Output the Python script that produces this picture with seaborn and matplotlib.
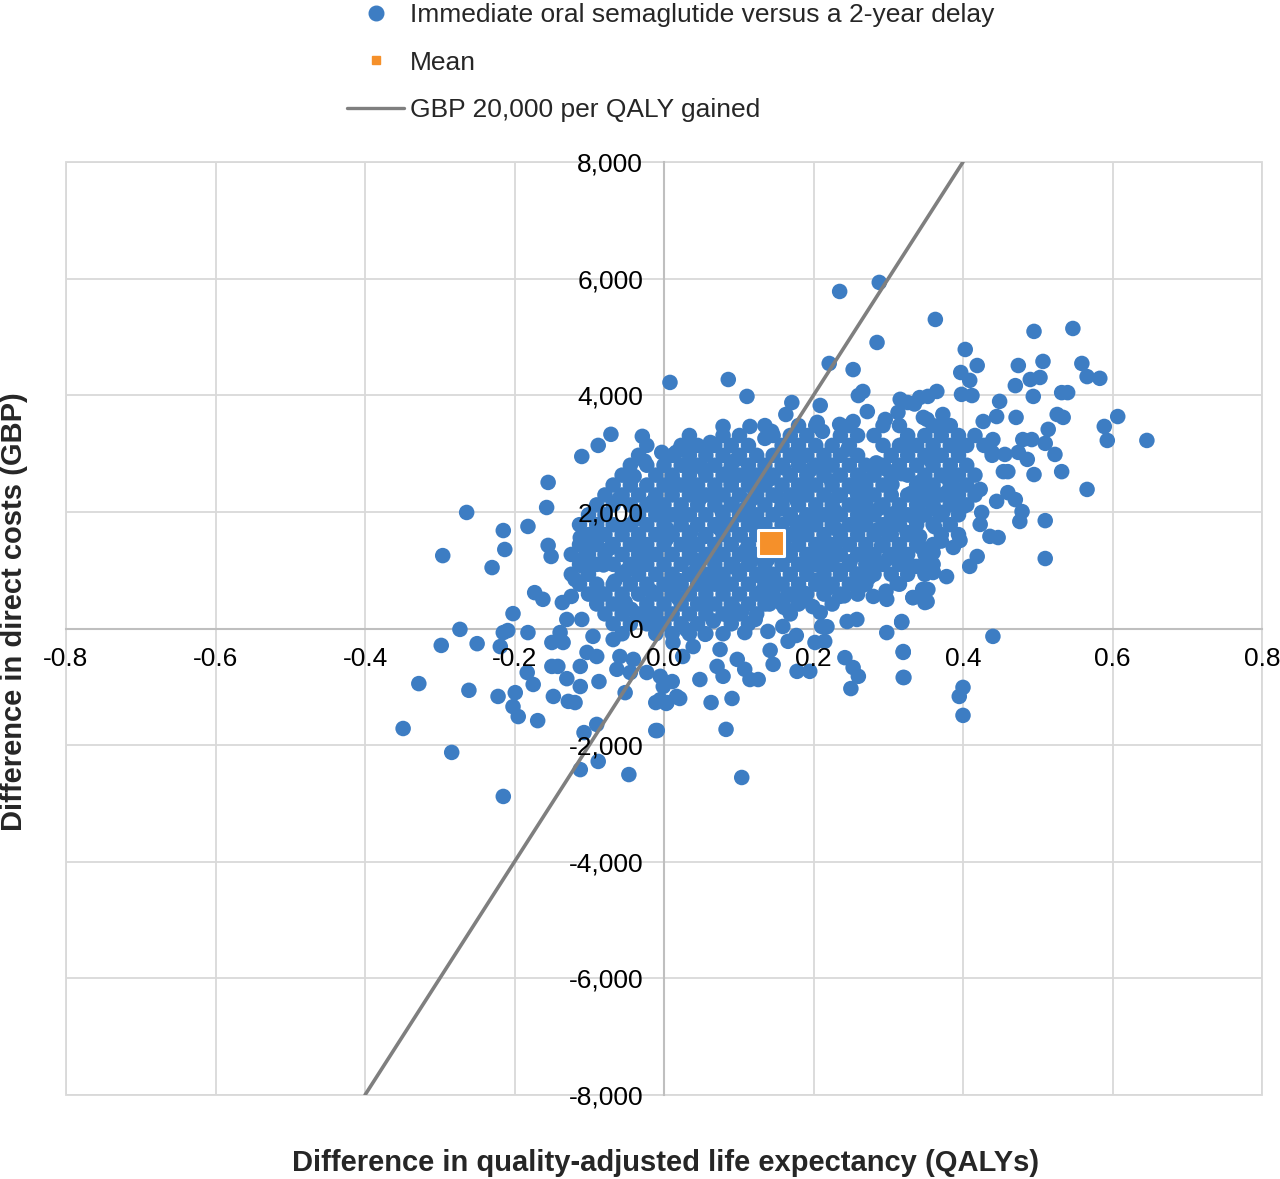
import matplotlib.pyplot as plt
import matplotlib.ticker as mticker
from matplotlib.lines import Line2D
from matplotlib.patches import Rectangle
import numpy as np
import pandas as pd
import seaborn as sns

# ---- data (QALYs gained, incremental cost in GBP) ----
# dense core of the cloud: one cost band per row
core_row_cost = [3480, 3310, 3140, 2970, 2800, 2630, 2460, 2290, 2120, 1950, 1780,
                 1610, 1440, 1270, 1100, 930, 760, 590, 420, 250, 80, -90]
core_row_qaly = [
    [0.135, 0.180, 0.203, 0.248, 0.293, 0.315, 0.360, 0.383],
    [0.034, 0.079, 0.101, 0.146, 0.169, 0.191, 0.236, 0.259, 0.281, 0.326, 0.349, 0.371, 0.394, 0.416],
    [-0.023, 0.023, 0.045, 0.068, 0.090, 0.113, 0.158, 0.180, 0.203, 0.225, 0.248, 0.293, 0.315, 0.338, 0.360, 0.383, 0.405, 0.428],
    [-0.034, 0.011, 0.034, 0.056, 0.079, 0.101, 0.124, 0.146, 0.169, 0.191, 0.214, 0.236, 0.259, 0.304, 0.326, 0.349, 0.371, 0.394, 0.439],
    [-0.045, -0.023, 0.000, 0.023, 0.045, 0.068, 0.090, 0.113, 0.135, 0.158, 0.180, 0.203, 0.225, 0.248, 0.270, 0.293, 0.315, 0.338, 0.360, 0.383, 0.405],
    [-0.056, -0.011, 0.011, 0.034, 0.056, 0.079, 0.101, 0.124, 0.146, 0.169, 0.191, 0.214, 0.236, 0.259, 0.281, 0.304, 0.326, 0.349, 0.371, 0.394, 0.416],
    [-0.068, -0.045, -0.023, 0.000, 0.023, 0.045, 0.068, 0.090, 0.113, 0.135, 0.158, 0.180, 0.203, 0.225, 0.248, 0.270, 0.293, 0.338, 0.360, 0.383, 0.405],
    [-0.079, -0.056, -0.034, -0.011, 0.011, 0.034, 0.056, 0.079, 0.101, 0.124, 0.146, 0.169, 0.191, 0.214, 0.236, 0.259, 0.281, 0.304, 0.326, 0.349, 0.371, 0.394, 0.416],
    [-0.090, -0.068, -0.045, -0.023, 0.000, 0.023, 0.045, 0.068, 0.090, 0.113, 0.135, 0.158, 0.180, 0.203, 0.225, 0.248, 0.270, 0.293, 0.315, 0.338, 0.360, 0.383, 0.405],
    [-0.101, -0.079, -0.034, -0.011, 0.011, 0.034, 0.056, 0.079, 0.101, 0.124, 0.146, 0.169, 0.191, 0.214, 0.236, 0.259, 0.281, 0.304, 0.326, 0.349, 0.371, 0.394],
    [-0.113, -0.090, -0.068, -0.045, -0.023, 0.000, 0.023, 0.045, 0.068, 0.090, 0.113, 0.135, 0.158, 0.180, 0.203, 0.225, 0.248, 0.270, 0.293, 0.315, 0.338, 0.360, 0.383],
    [-0.101, -0.079, -0.056, -0.034, -0.011, 0.011, 0.034, 0.056, 0.079, 0.101, 0.124, 0.146, 0.169, 0.191, 0.214, 0.236, 0.259, 0.281, 0.304, 0.326, 0.371, 0.394],
    [-0.113, -0.090, -0.068, -0.045, -0.023, 0.000, 0.023, 0.045, 0.068, 0.090, 0.113, 0.135, 0.158, 0.180, 0.203, 0.225, 0.248, 0.270, 0.293, 0.315, 0.338, 0.360],
    [-0.124, -0.101, -0.079, -0.056, -0.034, -0.011, 0.011, 0.034, 0.056, 0.079, 0.101, 0.124, 0.146, 0.169, 0.191, 0.214, 0.236, 0.259, 0.281, 0.304, 0.326, 0.349],
    [-0.113, -0.090, -0.068, -0.045, -0.023, 0.000, 0.023, 0.045, 0.068, 0.090, 0.113, 0.135, 0.158, 0.180, 0.203, 0.225, 0.248, 0.270, 0.293, 0.315, 0.360],
    [-0.124, -0.101, -0.056, -0.034, -0.011, 0.011, 0.034, 0.056, 0.079, 0.101, 0.124, 0.146, 0.169, 0.191, 0.214, 0.236, 0.259, 0.281, 0.304, 0.326, 0.349],
    [-0.113, -0.090, -0.068, -0.045, -0.023, 0.000, 0.023, 0.045, 0.068, 0.090, 0.113, 0.135, 0.158, 0.180, 0.203, 0.225, 0.248, 0.270, 0.315],
    [-0.101, -0.079, -0.056, -0.034, -0.011, 0.011, 0.034, 0.056, 0.079, 0.101, 0.124, 0.146, 0.169, 0.191, 0.214, 0.236, 0.259],
    [-0.090, -0.068, -0.023, 0.000, 0.023, 0.045, 0.068, 0.090, 0.113, 0.135, 0.158, 0.180, 0.225],
    [-0.079, -0.056, -0.034, -0.011, 0.011, 0.034, 0.056, 0.079, 0.101, 0.124, 0.169],
    [-0.068, -0.045, -0.023, 0.000, 0.023, 0.045, 0.090, 0.113],
    [-0.056, -0.011, 0.011, 0.034, 0.056, 0.079],
]
# extra points sitting inside the core
core_fill = [
    (0.012, 2540), (0.047, 2210), (0.083, 2655), (0.121, 2380), (0.157, 2050), (0.196, 2720),
    (0.233, 2275), (0.268, 1985), (0.305, 2470), (0.341, 2130), (0.377, 2600), (-0.038, 1870),
    (0.003, 1530), (0.039, 1195), (0.074, 1720), (0.109, 1340), (0.146, 905), (0.183, 1605),
    (0.219, 1160), (0.254, 1790), (0.291, 1420), (0.327, 1015), (0.362, 1745), (-0.072, 1380),
    (-0.051, 985), (-0.017, 640), (0.021, 820), (0.058, 455), (0.094, 1050), (0.131, 640),
    (0.167, 1255), (0.204, 830), (0.241, 560), (0.277, 1110), (0.312, 770), (-0.088, 640),
    (-0.060, 2230), (-0.026, 2870), (0.016, 3020), (0.062, 3190), (0.097, 2900), (0.135, 3260),
    (0.173, 2985), (0.212, 3380), (0.246, 3075), (0.284, 2840), (0.322, 3175), (0.356, 2895),
    (0.393, 3060), (-0.094, 1630), (-0.081, 1090), (-0.107, 1210), (0.030, -20), (0.066, 130),
    (0.104, 285), (0.141, 420), (0.182, 460), (0.219, 690), (0.258, 930), (0.297, 640),
    (-0.044, 330), (-0.008, 95), (0.053, 2730), (0.090, 2470), (0.187, 2345), (0.229, 2015),
    (0.263, 2590), (0.299, 1650), (0.336, 1880), (0.371, 1500), (0.114, 1890), (0.152, 1600),
    (0.004, 1710), (-0.030, 1400),
    (-0.040, 2610), (-0.015, 2180), (0.028, 2795), (0.069, 2345), (0.105, 2025), (0.142, 2565),
    (0.178, 2190), (0.215, 2860), (0.252, 2420), (0.288, 2060), (0.318, 2655), (-0.057, 1720),
    (-0.020, 1285), (0.017, 1960), (0.055, 1580), (0.091, 2130), (0.127, 1715), (0.163, 1385),
    (0.199, 1930), (0.236, 1525), (0.272, 1305), (0.309, 1980), (0.344, 1390), (-0.066, 810),
    (-0.031, 1105), (0.007, 735), (0.043, 1010), (0.080, 820), (0.116, 1145), (0.153, 760),
    (0.190, 1035), (0.226, 1380), (0.263, 720), (0.300, 1200), (-0.052, 450), (-0.018, 270),
    (0.019, 520), (0.056, 770), (0.092, 380), (0.128, 900), (0.165, 560), (0.201, 1200),
    (0.236, 1000), (0.274, 870), (0.041, 2440), (0.078, 1990), (0.113, 2620), (0.150, 2280),
    (0.188, 1795), (0.224, 2530), (0.260, 2160), (0.296, 2740), (0.331, 2320), (0.367, 2000),
    (0.029, 1430), (0.067, 1225), (0.102, 1605), (0.139, 1190), (0.176, 1830), (0.212, 1430),
    (0.249, 1145), (0.286, 1695), (0.320, 1250), (0.355, 1135), (-0.003, 2010), (0.036, 1650),
    (0.070, 950), (0.120, 2240), (0.160, 2755), (0.197, 2460), (0.230, 1710), (0.270, 2320),
    (0.306, 1830), (0.340, 2500),
]

# scattered points around the core
left_spread = [
    (-0.264, 1990), (-0.296, 1250), (-0.215, 1680), (-0.213, 1355), (-0.230, 1045), (-0.182, 1750),
    (-0.155, 2505), (-0.157, 2075), (-0.155, 1425), (-0.151, 1235), (-0.110, 2950), (-0.088, 3140),
    (-0.071, 3330), (-0.029, 3295), (-0.173, 615), (-0.162, 500), (-0.136, 445), (-0.202, 255),
    (-0.273, -15), (-0.298, -290), (-0.250, -260), (-0.215, -70), (-0.209, -35), (-0.219, -310),
    (-0.182, -70), (-0.139, -70), (-0.135, -240), (-0.150, -240), (-0.328, -945), (-0.261, -1060),
    (-0.222, -1165), (-0.199, -1100), (-0.202, -1340), (-0.195, -1510), (-0.169, -1580), (-0.183, -755),
    (-0.175, -960), (-0.150, -650), (-0.142, -650), (-0.148, -1165), (-0.128, -1250), (-0.119, -1270),
    (-0.130, -860), (-0.112, -995), (-0.087, -910), (-0.349, -1715), (-0.284, -2125), (-0.215, -2880),
    (-0.112, -2420), (-0.107, -1785), (-0.090, -1645), (-0.088, -2280), (-0.047, -2505), (-0.011, -1750),
    (-0.112, 1560), (-0.103, 1360), (-0.108, 1065), (-0.119, 840), (-0.124, 550), (-0.130, 155),
    (-0.110, 155), (-0.095, -135), (-0.103, -410), (-0.112, -650), (-0.090, -480), (-0.068, -190),
    (-0.059, -480), (-0.041, -530), (-0.063, -700), (-0.045, -755), (-0.023, -755), (-0.001, -995),
    (-0.005, -1220), (0.004, -1270), (-0.052, -1100), (0.017, -1165),
]
top_spread = [
    (0.235, 5780), (0.288, 5935), (0.363, 5300), (0.285, 4905), (0.221, 4545), (0.253, 4440),
    (0.008, 4220), (0.086, 4270), (0.111, 3980), (0.171, 3875), (0.209, 3825), (0.260, 3995),
    (0.266, 4065), (0.272, 3720), (0.163, 3670), (0.079, 3465), (-0.003, 3020), (0.021, 3070),
    (0.031, 3070), (0.296, 3585), (0.313, 3705), (0.326, 3875), (0.342, 3960), (0.353, 3980),
    (0.365, 4065), (0.115, 3465), (0.144, 3380), (0.205, 3535), (0.235, 3500), (0.253, 3550),
    (0.352, 3585), (0.316, 3930), (0.335, 3850), (0.373, 3670), (0.372, 3500), (0.347, 3620),
]
right_spread = [
    (0.495, 5095), (0.547, 5145), (0.403, 4785), (0.419, 4510), (0.397, 4390), (0.409, 4255),
    (0.398, 4015), (0.412, 3995), (0.474, 4510), (0.507, 4580), (0.503, 4305), (0.490, 4270),
    (0.470, 4165), (0.494, 3980), (0.559, 4545), (0.566, 4320), (0.583, 4290), (0.532, 4045),
    (0.540, 4045), (0.607, 3635), (0.589, 3465), (0.593, 3225), (0.646, 3225), (0.526, 3670),
    (0.534, 3620), (0.514, 3415), (0.510, 3175), (0.523, 2985), (0.532, 2690), (0.495, 2640),
    (0.566, 2385), (0.471, 3620), (0.449, 3895), (0.445, 3635), (0.427, 3550), (0.440, 3240),
    (0.480, 3240), (0.492, 3240), (0.474, 3020), (0.486, 2900), (0.456, 2985), (0.439, 3020),
    (0.454, 2690), (0.460, 2690), (0.510, 1850), (0.476, 1835), (0.479, 2005), (0.460, 2330),
    (0.470, 2210), (0.445, 2180), (0.423, 2385), (0.425, 1990), (0.423, 1785), (0.436, 1580),
    (0.447, 1560), (0.510, 1200), (0.419, 1235), (0.409, 1065), (0.400, 2090), (0.396, 1510),
    (0.387, 1390), (0.360, 1405), (0.360, 1300), (0.378, 890), (0.360, 980), (0.333, 1065),
    (0.353, 670), (0.349, 445), (0.333, 530), (0.318, 120), (0.440, -135), (0.320, -395),
    (0.321, -840), (0.400, -1010), (0.395, -1165), (0.400, -1490), (0.342, 2435), (0.360, 2210),
    (0.378, 2330), (0.387, 2435), (0.373, 1990), (0.342, 1920), (0.325, 1645), (0.342, 1580),
]
lower_spread = [
    (0.161, 360), (0.139, -50), (0.159, 35), (0.166, -220), (0.177, -120), (0.142, -375),
    (0.146, -615), (0.178, -735), (0.195, -735), (0.202, -240), (0.215, -220), (0.211, 35),
    (0.242, -500), (0.253, -670), (0.260, -820), (0.250, -1030), (0.298, -70), (0.318, 105),
    (0.320, -410), (0.320, -840), (0.021, -1200), (-0.011, -1270), (0.003, -1285), (-0.009, -1750),
    (0.063, -1270), (0.091, -1200), (0.083, -1730), (0.104, -2555), (0.048, -875), (0.011, -910),
    (-0.005, -820), (0.071, -650), (0.079, -820), (0.098, -530), (0.115, -875), (0.126, -875),
    (0.108, -700), (0.025, -480), (0.039, -310), (0.012, -240), (0.075, -360), (0.055, -100),
    (0.108, -70), (0.088, 190), (0.122, 155), (0.186, 615), (0.199, 375), (0.209, 275),
    (0.218, 30), (0.235, 550), (0.258, 155), (0.245, 120), (0.280, 550), (0.298, 500),
    (0.333, 530), (0.352, 460), (0.338, 1065), (0.360, 960), (0.325, 1130), (0.346, 670),
]

mean_qaly = [0.143]
mean_cost = [1470]

# GBP 20,000 per QALY threshold line
line_qaly = [-0.4, 0.4]
line_cost = [-8000, 8000]

x_ticks = [-0.8, -0.6, -0.4, -0.2, 0.0, 0.2, 0.4, 0.6, 0.8]
y_ticks = [-8000, -6000, -4000, -2000, 0, 2000, 4000, 6000, 8000]

label_points = "Immediate oral semaglutide versus a 2-year delay"
label_mean = "Mean"
label_line = "GBP 20,000 per QALY gained"

# ---- build the point table ----
qs, cs = [], []
for c, row in zip(core_row_cost, core_row_qaly):
    qs += row
    cs += [c] * len(row)
for grp in [core_fill, left_spread, top_spread, right_spread, lower_spread]:
    qs += [p[0] for p in grp]
    cs += [p[1] for p in grp]
df = pd.DataFrame({"qaly": qs, "cost": cs})

blue = "#3d7dc3"
orange = "#f5902a"
grey = "#7f7f7f"
light = "#d9d9d9"

sns.set_style("white")
plt.rcParams["font.family"] = ["Liberation Sans", "DejaVu Sans"]

fig = plt.figure(figsize=(12.8, 11.79), dpi=100)
ax = fig.add_axes([66 / 1280, 1 - 1095 / 1179, (1262 - 66) / 1280, (1095 - 162) / 1179])

# grid drawn by hand so the tick labels can sit on top of the points
for xv in x_ticks:
    ax.axvline(xv, color=light, linewidth=1.3, zorder=0)
for yv in y_ticks:
    ax.axhline(yv, color=light, linewidth=1.3, zorder=0)

sns.scatterplot(data=df, x="qaly", y="cost", ax=ax, s=125, color=blue,
                edgecolor="none", linewidth=0, zorder=3, legend=False)
sns.lineplot(x=line_qaly, y=line_cost, ax=ax, color=grey, linewidth=2.6, zorder=4)
ax.scatter(mean_qaly, mean_cost, marker="s", s=330, color=orange,
           edgecolor="white", linewidth=2.2, zorder=5)

ax.set_xlim(-0.8, 0.8)
ax.set_ylim(-8000, 8000)
ax.set_xticks(x_ticks)
ax.set_yticks(y_ticks)
ax.xaxis.set_major_formatter(mticker.FuncFormatter(lambda v, p: f"{v:.1f}"))
ax.yaxis.set_major_formatter(mticker.FuncFormatter(lambda v, p: f"{v:,.0f}"))
ax.grid(False)
ax.xaxis.set_zorder(6)
ax.yaxis.set_zorder(6)

# axes cross at the origin
ax.spines["left"].set_position(("data", 0))
ax.spines["bottom"].set_position(("data", 0))
for s in ["left", "bottom"]:
    ax.spines[s].set_color("#bfbfbf")
    ax.spines[s].set_linewidth(1.5)
    ax.spines[s].set_zorder(1)
for s in ["top", "right"]:
    ax.spines[s].set_visible(False)
ax.add_patch(Rectangle((0, 0), 1, 1, transform=ax.transAxes, fill=False,
                       edgecolor=light, linewidth=1.3, clip_on=False, zorder=1))

ax.tick_params(axis="both", length=0, labelsize=19, colors="black")
ax.tick_params(axis="y", pad=15)
ax.tick_params(axis="x", pad=13)
ax.set_xlabel("")
ax.set_ylabel("")

fig.text(666 / 1280, 1 - 1163 / 1179, "Difference in quality-adjusted life expectancy (QALYs)",
         ha="center", va="center", fontsize=21, fontweight="bold")
fig.text(14 / 1280, 1 - 612 / 1179, "Difference in direct costs (GBP)",
         ha="center", va="center", rotation=90, fontsize=21, fontweight="bold")

handles = [
    Line2D([], [], marker="o", linestyle="none", color=blue, markersize=10.5),
    Line2D([], [], marker="s", linestyle="none", color=orange, markersize=6),
    Line2D([], [], color=grey, linewidth=2.4),
]
fig.legend(handles, [label_points, label_mean, label_line], loc="upper left",
           bbox_to_anchor=(347 / 1280, 0.9975), frameon=False, fontsize=19,
           handlelength=2.16, handletextpad=0.23, labelspacing=0.9,
           borderpad=0, borderaxespad=0)

fig.savefig("out.png", dpi=100)
